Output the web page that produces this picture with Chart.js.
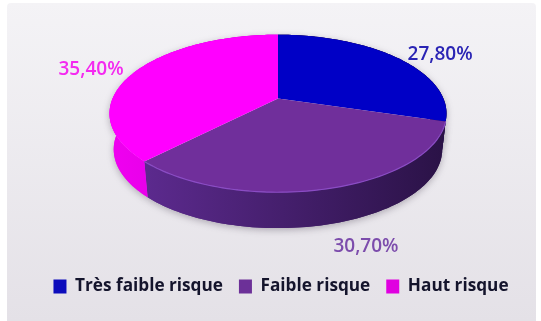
<!DOCTYPE html>
<html>
<head>
<meta charset="utf-8">
<script src="https://cdn.jsdelivr.net/npm/chart.js@4"></script>
<style>
  html, body { margin: 0; background: #fff; overflow: hidden; }
  #wrap { position: relative; width: 541px; height: 321px; }
  #panel {
    position: absolute; left: 7px; top: 3px; width: 529px; height: 318px;
    border-radius: 4px 4px 0 0;
    background: linear-gradient(#f4f3f6, #e4e1e7);
  }
  canvas { position: absolute; left: 0; top: 0; }
</style>
</head>
<body>
<div id="wrap">
  <div id="panel"></div>
  <canvas id="chart" width="541" height="321"></canvas>
</div>
<script>
const categories = ["Très faible risque", "Faible risque", "Haut risque"];
const shares = [27.8, 30.7, 35.4];

const faceColors = ["#0000c6", "#702f9b", "#ff00ff"];
const legendColors = ["#0c0cbc", "#6c3098", "#e000e0"];
const labelColors = ["#2a24b4", "#7c4cac", "#f42af0"];
const wallColors = [
  ["#1a0a50", "#1a0a50"],
  ["#5c2a8e", "#2a1246"],
  ["#f000f0", "#d000d8"]
];
// label position relative to the rim point at the middle of each slice
const labelOffsets = [[43, -3], [37, 58], [-44, -2]];

// flattened pie: sizes relative to the arc radius the library computes
const SQUASH_X = 1.292;
const SQUASH_Y = 0.604;
const DEPTH = 0.275;
const BASE_TAPER = 0.975;
const PERSPECTIVE = -0.19;
const FONT = '"Open Sans", sans-serif';

function project(arc, angle) {
  const r = arc.outerRadius;
  const u = Math.cos(angle);
  const v = Math.sin(angle);
  const w = 1 + PERSPECTIVE * v;
  return {
    x: arc.x + r * SQUASH_X * Math.sqrt(1 - PERSPECTIVE * PERSPECTIVE) * u / w,
    y: arc.y - r * DEPTH / 2 + r * SQUASH_Y * (v + PERSPECTIVE) / w
  };
}

function rimPoints(arc) {
  const steps = Math.max(2, Math.ceil((arc.endAngle - arc.startAngle) * 40));
  const pts = [];
  for (let i = 0; i <= steps; i++) {
    pts.push(project(arc, arc.startAngle + (arc.endAngle - arc.startAngle) * i / steps));
  }
  return pts;
}

function tracePoints(ctx, pts) {
  pts.forEach(p => ctx.lineTo(p.x, p.y));
}

function drawWall(ctx, arc, index) {
  const depth = arc.outerRadius * DEPTH;
  const pts = rimPoints(arc);
  const xs = pts.map(p => p.x);
  const grad = ctx.createLinearGradient(Math.min(...xs), 0, Math.max(...xs), 0);
  grad.addColorStop(0, wallColors[index][0]);
  grad.addColorStop(1, wallColors[index][1]);

  // the base rim sits lower and slightly narrower than the top rim
  const base = pts.slice().reverse().map(p => ({
    x: arc.x + (p.x - arc.x) * BASE_TAPER,
    y: p.y + depth
  }));

  ctx.beginPath();
  tracePoints(ctx, pts);
  tracePoints(ctx, base);
  ctx.closePath();
  ctx.fillStyle = grad;
  ctx.fill();
}

// the pie is painted here, tilted, from the angles of the library's arcs
const tiltedPie = {
  id: "tiltedPie",
  afterLayout(chart) {
    // legend row sits a little right of the pie's centre
    chart.legend.left += 3;
    chart.legend.right += 3;
  },
  beforeDatasetDraw(chart) {
    const ctx = chart.ctx;
    const arcs = chart.getDatasetMeta(0).data;

    ctx.save();
    ctx.shadowColor = "rgba(60,50,70,0.35)";
    ctx.shadowBlur = 7;
    ctx.shadowOffsetY = 2;
    arcs.forEach((arc, i) => drawWall(ctx, arc, i));
    ctx.restore();
    arcs.forEach((arc, i) => drawWall(ctx, arc, i));

    arcs.forEach((arc, i) => {
      const r = arc.outerRadius;
      ctx.beginPath();
      ctx.moveTo(arc.x, arc.y - r * DEPTH / 2 + r * SQUASH_Y * PERSPECTIVE);
      tracePoints(ctx, rimPoints(arc));
      ctx.closePath();
      ctx.fillStyle = faceColors[i];
      ctx.fill();
    });

    // lighter edge along the front of the purple slice
    ctx.beginPath();
    tracePoints(ctx, rimPoints(arcs[1]));
    ctx.strokeStyle = "#8a4cc4";
    ctx.lineWidth = 1.2;
    ctx.stroke();

    return false;
  },
  afterDraw(chart) {
    const ctx = chart.ctx;
    ctx.save();
    ctx.font = "600 19px " + FONT;
    ctx.textAlign = "center";
    ctx.textBaseline = "middle";
    chart.getDatasetMeta(0).data.forEach((arc, i) => {
      const p = project(arc, (arc.startAngle + arc.endAngle) / 2);
      ctx.fillStyle = labelColors[i];
      const text = shares[i].toFixed(2).replace(".", ",") + "%";
      ctx.fillText(text, p.x + labelOffsets[i][0], p.y + labelOffsets[i][1]);
    });
    ctx.restore();
  }
};

new Chart(document.getElementById("chart"), {
  type: "pie",
  data: {
    labels: categories,
    datasets: [{
      data: shares,
      backgroundColor: legendColors,
      borderWidth: 0
    }]
  },
  plugins: [tiltedPie],
  options: {
    responsive: false,
    animation: false,
    layout: { padding: { left: 15, right: 0, top: 1, bottom: 16 } },
    plugins: {
      tooltip: { enabled: false },
      legend: {
        position: "bottom",
        labels: {
          boxWidth: 13,
          boxHeight: 14,
          padding: 16,
          color: "#14142c",
          font: { family: FONT, size: 17.2, weight: "700" }
        }
      }
    }
  }
});
</script>
</body>
</html>
